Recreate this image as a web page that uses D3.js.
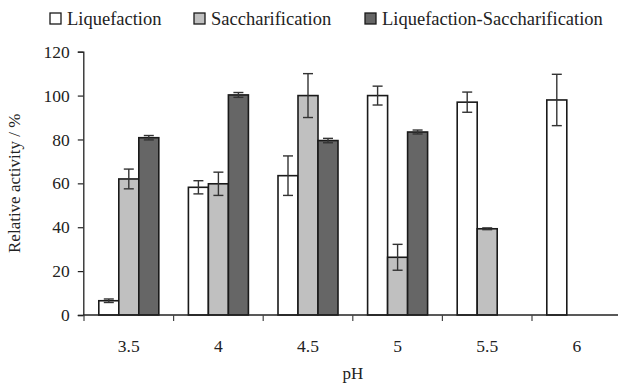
<!DOCTYPE html>
<html>
<head>
<meta charset="utf-8">
<script src="https://cdn.jsdelivr.net/npm/d3@7"></script>
<style>
  body { margin: 0; background: #fff; }
  svg { display: block; font-family: "Liberation Serif", "DejaVu Serif", serif; }
</style>
</head>
<body>
<div id="chart"></div>
<script>
// pH values on the x axis
var phLabels = ["3.5", "4", "4.5", "5", "5.5", "6"];
var seriesNames = ["Liquefaction", "Saccharification", "Liquefaction-Saccharification"];

// relative activity (%) and error (+/-) per series, null = no bar
var liquefaction      = [6.5, 58.2, 63.5, 100, 97, 98];
var liquefactionErr   = [0.8, 3, 9, 4.3, 4.6, 11.7];
var saccharification  = [62, 59.8, 100, 26.3, 39.3, null];
var saccharificationErr = [4.5, 5.3, 10, 5.9, 0.4, null];
var liqSacc           = [80.8, 100.3, 79.5, 83.4, null, null];
var liqSaccErr        = [1, 1.1, 1, 0.9, null, null];

var yTicks = [0, 20, 40, 60, 80, 100, 120];

var width = 618;
var height = 384;
var fills = ["#ffffff", "#c0c0c0", "#666666"];

var values = [liquefaction, saccharification, liqSacc];
var errors = [liquefactionErr, saccharificationErr, liqSaccErr];

var svg = d3.select("#chart").append("svg")
    .attr("width", width)
    .attr("height", height);

// band range runs a little past the right edge, as in the original
var x = d3.scaleBand()
    .domain(phLabels)
    .range([84, 84 + 6 * 89.6]);

var xInner = d3.scaleBand()
    .domain(seriesNames)
    .range([0, 60]);

var y = d3.scaleLinear()
    .domain([0, 120])
    .range([315, 51.7]);

var pad = (x.bandwidth() - 60) / 2;

// bars
seriesNames.forEach(function(name, s) {
  var data = phLabels.map(function(p, i) {
    return {ph: p, v: values[s][i], e: errors[s][i]};
  }).filter(function(d) { return d.v != null; });

  var g = svg.append("g");

  g.selectAll("rect")
    .data(data)
    .enter().append("rect")
      .attr("x", function(d) { return x(d.ph) + pad + xInner(name); })
      .attr("y", function(d) { return y(d.v); })
      .attr("width", xInner.bandwidth())
      .attr("height", function(d) { return y(0) - y(d.v); })
      .style("fill", fills[s])
      .style("stroke", "#1a1a1a")
      .style("stroke-width", 1.6);

  // error bars
  var eb = g.selectAll("g.err")
    .data(data)
    .enter().append("g")
      .attr("class", "err")
      .attr("transform", function(d) {
        return "translate(" + (x(d.ph) + pad + xInner(name) + xInner.bandwidth() / 2) + ",0)";
      })
      .style("stroke", "#333")
      .style("stroke-width", 1.4);

  eb.append("line")
    .attr("y1", function(d) { return y(d.v + d.e); })
    .attr("y2", function(d) { return y(d.v - d.e); });
  eb.append("line")
    .attr("x1", -5).attr("x2", 5)
    .attr("y1", function(d) { return y(d.v + d.e); })
    .attr("y2", function(d) { return y(d.v + d.e); });
  eb.append("line")
    .attr("x1", -5).attr("x2", 5)
    .attr("y1", function(d) { return y(d.v - d.e); })
    .attr("y2", function(d) { return y(d.v - d.e); });
});

// y axis
var yAxis = svg.append("g")
    .attr("transform", "translate(83.3,0)")
    .call(d3.axisLeft(y).tickValues(yTicks).tickSize(5.5).tickPadding(8));
yAxis.select(".domain").attr("stroke", "#222").attr("stroke-width", 1.3);
yAxis.selectAll(".tick line").attr("stroke", "#222").attr("stroke-width", 1.2);
yAxis.selectAll("text")
    .style("font-size", "17.5px")
    .style("font-family", "Liberation Serif")
    .attr("fill", "#222");

// x axis: labels at band centres, ticks at band edges
var xAxis = svg.append("g")
    .attr("transform", "translate(0," + y(0) + ")")
    .call(d3.axisBottom(x).tickSize(0).tickPadding(25));
xAxis.select(".domain").remove();
xAxis.selectAll("text")
    .style("font-size", "17.5px")
    .style("font-family", "Liberation Serif")
    .attr("fill", "#222");

svg.append("line")
    .attr("x1", 83.3).attr("x2", width)
    .attr("y1", y(0)).attr("y2", y(0))
    .style("stroke", "#222").style("stroke-width", 1.4);

var edges = phLabels.map(function(p) { return x(p); });
edges.push(x.range()[1]);
svg.selectAll("line.xtick")
    .data(edges)
    .enter().append("line")
      .attr("class", "xtick")
      .attr("x1", function(d) { return d; })
      .attr("x2", function(d) { return d; })
      .attr("y1", y(0))
      .attr("y2", y(0) + 6)
      .style("stroke", "#444").style("stroke-width", 1.2);

// axis titles
svg.append("text")
    .attr("x", (x.range()[0] + x.range()[1]) / 2)
    .attr("y", 379)
    .attr("text-anchor", "middle")
    .style("font-size", "17px")
    .attr("fill", "#222")
    .text("pH");

svg.append("text")
    .attr("transform", "translate(20," + ((y(0) + y(120)) / 2) + ") rotate(-90)")
    .attr("text-anchor", "middle")
    .style("font-size", "17px")
    .attr("fill", "#222")
    .text("Relative activity / %");

// legend
var legendX = [50, 194, 365];
var legend = svg.selectAll("g.legend")
    .data(seriesNames)
    .enter().append("g")
      .attr("class", "legend")
      .attr("transform", function(d, i) { return "translate(" + legendX[i] + ",13)"; });

legend.append("rect")
    .attr("width", 11).attr("height", 11)
    .style("fill", function(d, i) { return fills[i]; })
    .style("stroke", "#1a1a1a")
    .style("stroke-width", 1.3);

legend.append("text")
    .attr("x", 17)
    .attr("y", 11.5)
    .style("font-size", "18.5px")
    .attr("fill", "#222")
    .text(function(d) { return d; });
</script>
</body>
</html>
